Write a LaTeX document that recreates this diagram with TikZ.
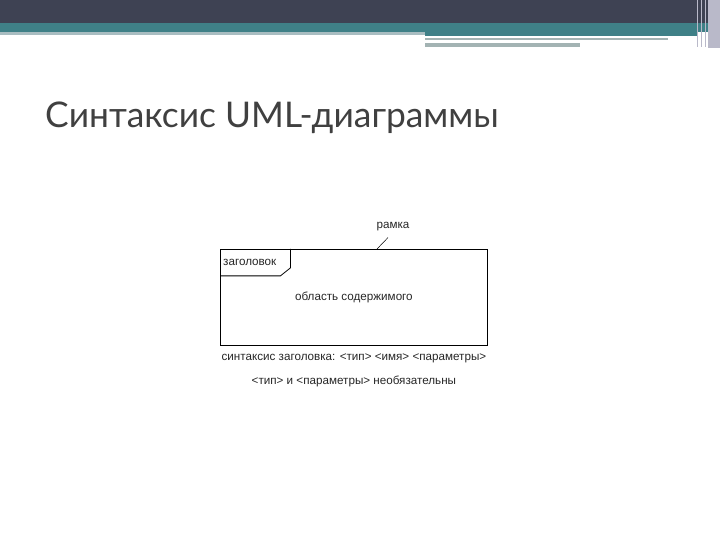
\documentclass[tikz,border=0pt]{standalone}
\usepackage{fontspec}
\setmainfont{Liberation Sans}
\newfontfamily\titlefont{Lato}
\usetikzlibrary{positioning}

\definecolor{barDark}{HTML}{3E4253}
\definecolor{barTeal}{HTML}{3F8087}
\definecolor{barLine}{HTML}{A9BDC1}
\definecolor{barGrey}{HTML}{A3B3B3}
\definecolor{barEdge}{HTML}{B9B9C9}
\definecolor{titleGrey}{HTML}{404040}

\tikzset{
  umltext/.style={font=\fontsize{11.7}{13}\selectfont, text=black!85, inner sep=0pt},
  umlline/.style={draw=black, line width=0.8bp},
}

\begin{document}
\begin{tikzpicture}[x=1bp,y=-1bp]
    \useasboundingbox (0,0) rectangle (720,540);
    % header bar
    \fill[barDark] (0,0) rectangle (720,23);
    \fill[barTeal] (0,23) rectangle (720,32);
    \fill[barLine] (0,32) rectangle (425,35);
    \fill[barTeal] (425,32) rectangle (697,36);
    \fill[barGrey] (425,38) rectangle (668,40);
    \fill[barGrey] (425,43) rectangle (580,47);
    \fill[barEdge] (708,0) rectangle (720,48);
    \foreach \X in {697,701,705}{
        \draw[barEdge, line width=1bp] (\X,0) -- (\X,47);
    }
    % title
    \node[anchor=base west, inner sep=0pt, text=titleGrey,
          font=\titlefont\fontsize{35.5}{42}\selectfont] (title) at (45,128) {Синтаксис UML-диаграммы};

    % frame
    \node[umlline, minimum width=267bp, minimum height=96bp, inner sep=0pt, anchor=north west] (frame) at (220,249) {};
    \node[minimum width=70bp, minimum height=26.5bp, inner sep=0pt, anchor=north west] (tab) at (frame.north west) {};
    \node[umltext, anchor=west] (tabtext) at ([xshift=3bp]tab.west) {заголовок};
    \draw[umlline] (tab.south west) -- ([xshift=-10bp]tab.south east) -- ([yshift=8bp]tab.south east) -- (tab.north east);
    \node[umltext] (content) at (frame.center) {область содержимого};

    % frame label
    \node[umltext] (framelabel) at (393,227) {рамка};
    \coordinate (framept) at (377,249);
    \draw[umlline, line width=0.5bp] (framept) -- ([shift={(-5bp,-6bp)}]framelabel.south);

    % syntax
    \node[umltext, below=8bp of frame] (syntax) {синтаксис заголовка: <тип> <имя> <параметры>};
    \node[umltext, below=12bp of syntax] (optional) {<тип> и <параметры> необязательны};
\end{tikzpicture}
\end{document}
